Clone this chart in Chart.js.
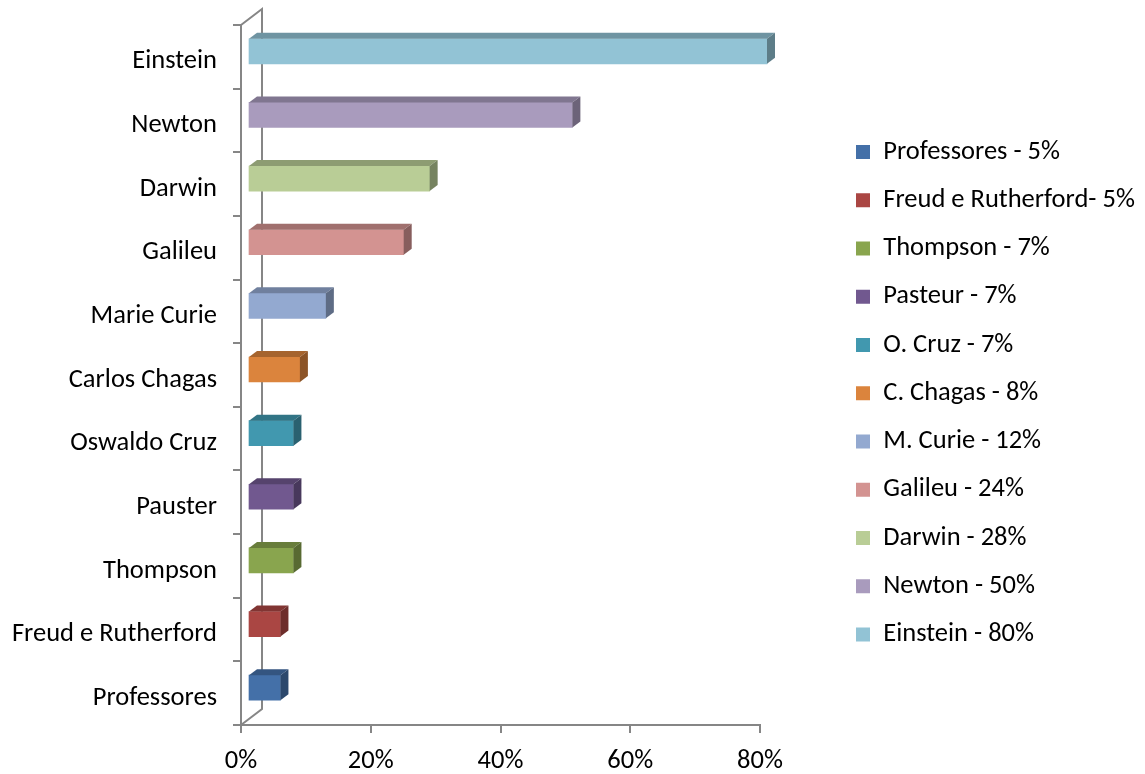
<!DOCTYPE html>
<html><head><meta charset="utf-8">
<script src="https://cdn.jsdelivr.net/npm/chart.js@4/dist/chart.umd.min.js"></script>
<style>html,body{margin:0;padding:0;background:#fff}canvas{display:block}</style>
</head><body>
<canvas id="c" width="1145" height="774"></canvas>
<script>
// ---- data ----
const categories = ['Einstein','Newton','Darwin','Galileu','Marie Curie','Carlos Chagas','Oswaldo Cruz','Pauster','Thompson','Freud e Rutherford','Professores'];
const values = [80, 50, 28, 24, 12, 8, 7, 7, 7, 5, 5];
const legendLabels = ['Einstein - 80%','Newton - 50%','Darwin - 28%','Galileu - 24%','M. Curie - 12%','C. Chagas - 8%','O. Cruz - 7%','Pasteur - 7%','Thompson - 7%','Freud e Rutherford- 5%','Professores - 5%'];
const colors = ['#92C3D5','#A99BBD','#B9CD96','#D39391','#93A9D0','#DB843D','#4198AF','#71588F','#89A54E','#AA4643','#4470A8'];
const xTickValues = [0, 20, 40, 60, 80];

// ---- style ----
const FONT = 'Carlito, Calibri, Lato, sans-serif';
const FS = 26.5;
const AXIS = '#868686';
const D = { bx: 7, by: -5.5, fx: 8, fy: -6, wx: 21, wy: -16 };
const LEG_PAD = 21.75;

function shade(hex, f) {
  const n = parseInt(hex.slice(1), 16);
  const r = Math.round(((n >> 16) & 255) * f), g = Math.round(((n >> 8) & 255) * f), b = Math.round((n & 255) * f);
  return 'rgb(' + r + ',' + g + ',' + b + ')';
}
function noPad(s) { s.paddingTop = 0; s.paddingBottom = 0; s.paddingLeft = 0; s.paddingRight = 0; }

const box3d = {
  id: 'box3d',
  beforeLayout(chart) {
    const lg = chart.legend;
    if (lg && !lg._fixedW) {
      const orig = lg.fit.bind(lg);
      lg.fit = function () { orig(); this.width = 310.75; };
      lg._fixedW = true;
    }
  },
  beforeDatasetsDraw(chart) {
    const { ctx, chartArea: a } = chart;
    ctx.save();
    ctx.strokeStyle = AXIS; ctx.lineWidth = 2;
    ctx.beginPath();
    ctx.moveTo(a.left, a.top);
    ctx.lineTo(a.left + D.wx, a.top + D.wy);
    ctx.lineTo(a.left + D.wx, a.bottom + D.wy);
    ctx.lineTo(a.left, a.bottom);
    ctx.stroke();
    ctx.restore();
    ctx.save();
    ctx.translate(D.bx, D.by);
  },
  afterDatasetsDraw(chart) {
    const ctx = chart.ctx;
    const meta = chart.getDatasetMeta(0);
    meta.data.forEach((bar, i) => {
      const p = bar.getProps(['x', 'y', 'base', 'height'], true);
      const top = p.y - p.height / 2, bot = p.y + p.height / 2;
      const c = colors[i];
      ctx.fillStyle = shade(c, 0.76);
      ctx.beginPath();
      ctx.moveTo(p.base, top); ctx.lineTo(p.x, top);
      ctx.lineTo(p.x + D.fx, top + D.fy); ctx.lineTo(p.base + D.fx, top + D.fy);
      ctx.closePath(); ctx.fill();
      ctx.fillStyle = shade(c, 0.64);
      ctx.beginPath();
      ctx.moveTo(p.x, top); ctx.lineTo(p.x + D.fx, top + D.fy);
      ctx.lineTo(p.x + D.fx, bot + D.fy); ctx.lineTo(p.x, bot);
      ctx.closePath(); ctx.fill();
    });
    ctx.restore();
  }
};

new Chart(document.getElementById('c'), {
  type: 'bar',
  data: {
    labels: categories,
    datasets: [{
      data: values,
      backgroundColor: colors,
      borderWidth: 0,
      barThickness: 25,
      clip: false
    }]
  },
  options: {
    indexAxis: 'y',
    responsive: false,
    animation: false,
    devicePixelRatio: 1,
    layout: { padding: { left: 0, right: 0, top: 25, bottom: 0 } },
    plugins: {
      tooltip: { enabled: false },
      legend: {
        position: 'right',
        align: 'start',
        title: { display: true, text: '', color: '#000', font: { size: 10 }, padding: { top: 80, bottom: 0 } },
        labels: {
          font: { family: FONT, size: FS },
          color: '#000',
          boxWidth: 14,
          boxHeight: 14,
          padding: LEG_PAD,
          generateLabels: () => legendLabels.map((t, i) => ({
            text: t, fillStyle: colors[i], strokeStyle: colors[i], fontColor: '#000', lineWidth: 0, hidden: false, index: i
          })).reverse()
        },
        onClick: () => {}
      }
    },
    scales: {
      x: {
        min: 0, max: 80,
        afterBuildTicks: (s) => { s.ticks = xTickValues.map(v => ({ value: v })); },
        afterFit: (s) => { s.height = 774 - 725; noPad(s); },
        grid: { display: true, drawOnChartArea: false, drawTicks: true, tickLength: 8, color: AXIS, lineWidth: 2 },
        border: { display: true, color: AXIS, width: 2 },
        ticks: { font: { family: FONT, size: FS }, color: '#000', padding: 12, maxRotation: 0, callback: (v) => v + '%' }
      },
      y: {
        position: 'left',
        afterFit: (s) => { s.width = 241; noPad(s); },
        grid: { display: true, drawOnChartArea: false, drawTicks: true, tickLength: 8, color: AXIS, lineWidth: 2, offset: true },
        border: { display: true, color: AXIS, width: 2 },
        ticks: { font: { family: FONT, size: FS }, color: '#000', padding: 16, labelOffset: 5 }
      },
      y2: {
        position: 'right',
        type: 'category',
        labels: categories,
        afterFit: (s) => { s.width = 74.25; noPad(s); },
        grid: { display: false },
        border: { display: false },
        ticks: { display: false }
      }
    }
  },
  plugins: [box3d]
});
</script>
</body></html>
